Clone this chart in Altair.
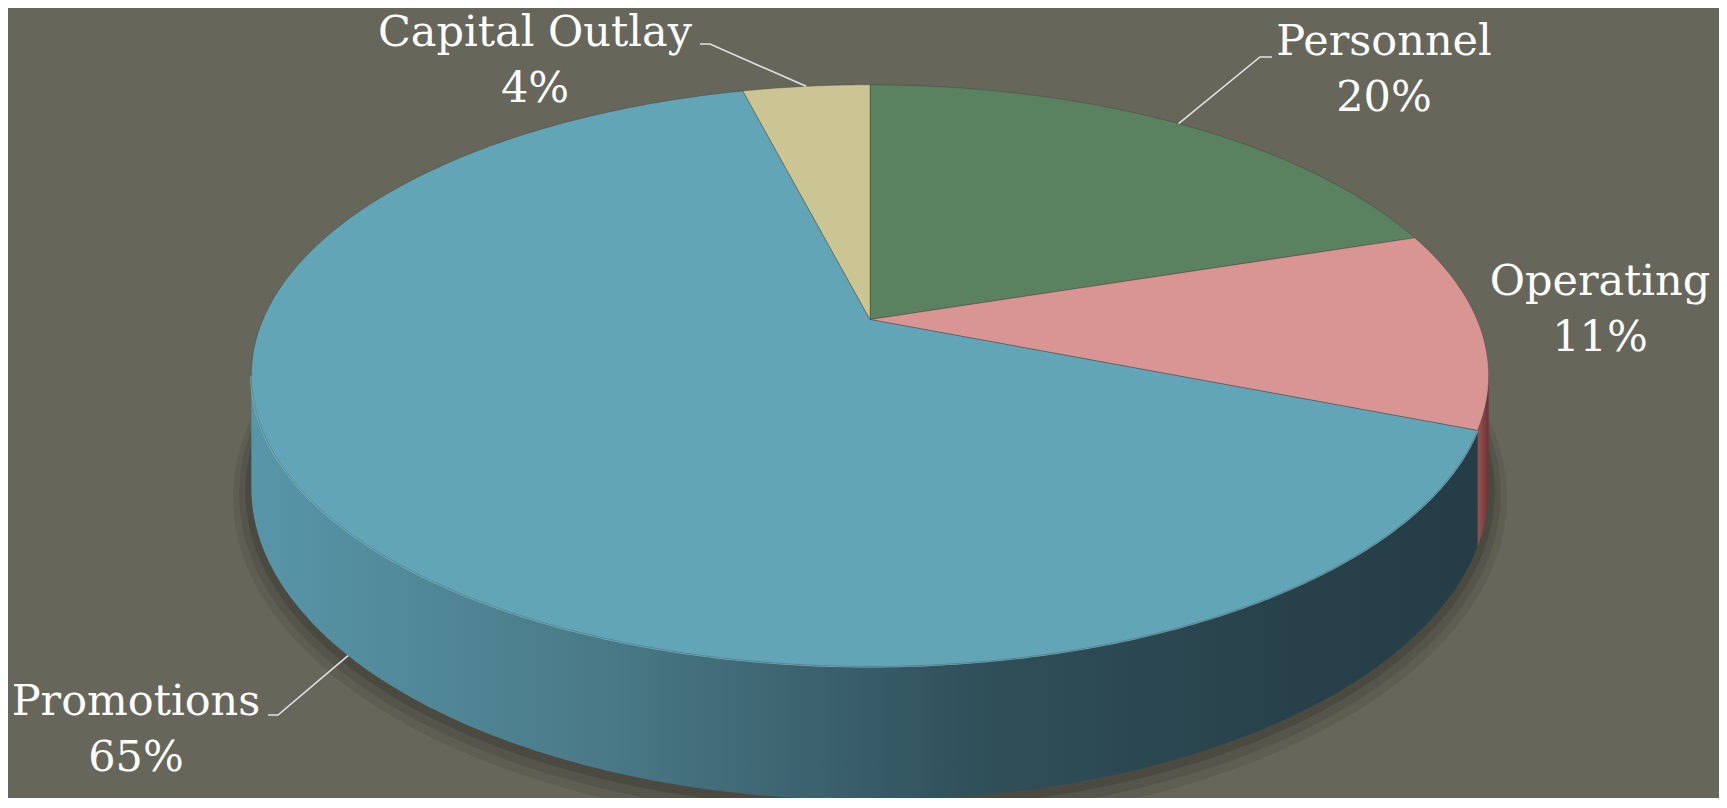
import math
import altair as alt
import numpy as np
import pandas as pd

# ---------------- data ----------------
categories = ["Personnel", "Operating", "Promotions", "Capital Outlay"]
values = [20, 11, 65, 4]
pct_text = ["20%", "11%", "65%", "4%"]

# ---------------- styles ----------------
top_colors = ["#5A8160", "#D99594", "#62A5B7", "#CBC493"]
side_stops = [
    [("#3E5C44", 0), ("#2E4433", 1)],
    [("#9A5353", 0), ("#6E3434", 1)],
    [("#5796A8", 0), ("#4A7A88", 0.28), ("#2F4F59", 0.6), ("#274049", 0.87), ("#253D46", 1)],
    [("#A09A70", 0), ("#8A845E", 1)],
]
BG = "#66665A"
FONT = "DejaVu Serif"

# ---------------- layout ----------------
W, H = 1711, 790
OX, OY = 8, 8
CX, CY = 870, 319.5      # pie apex
RX, RY = 607, 280        # projected radii
K = 0.193                # perspective factor
DEPTH = 108
label_x = [1384, 1600, 136, 535]
label_y = [55, 295, 715, 46]
LINE_GAP = 56
leader_elbows = {
    "Personnel": [(1272, 57), (1260, 57)],
    "Promotions": [(268, 715), (278, 715)],
    "Capital Outlay": [(700, 44), (710, 44)],
}
leader_on_side = {"Promotions"}


def project(theta, drop=0.0, grow=0.0):
    t = math.radians(theta)
    u, w = math.sin(t), -math.cos(t)
    s = 1.0 / (1.0 - K * w)
    return CX + (RX + grow) * u * s, CY + (RY + grow) * w * s + DEPTH * drop * s


def arc(a0, a1, drop=0.0, grow=0.0):
    n = max(2, int(math.ceil(abs(a1 - a0) / 0.5)) + 1)
    return [project(a, drop, grow) for a in np.linspace(a0, a1, n)]


def frame(pts):
    return pd.DataFrame({"i": range(len(pts)), "x": [p[0] for p in pts], "y": [p[1] for p in pts]})


xs = alt.Scale(domain=[OX, OX + W], nice=False, zero=False)
ys = alt.Scale(domain=[OY, OY + H], nice=False, zero=False, reverse=True)


def enc(ch):
    return ch.encode(
        x=alt.X("x:Q", scale=xs, axis=None),
        y=alt.Y("y:Q", scale=ys, axis=None),
        order=alt.Order("i:Q"),
    )


total = float(sum(values))
bounds = np.concatenate([[0.0], np.cumsum(values) / total * 360.0])
TH_R = math.degrees(math.acos(-K))
TH_L = 360.0 - TH_R

layers = []

# soft shadow under the pie
for g, op, dy in [(18, 0.07, 6), (12, 0.09, 4), (6, 0.12, 2)]:
    pts = [(x, y + dy) for x, y in arc(0, 360, drop=1.0, grow=g)]
    layers.append(enc(alt.Chart(frame(pts)).mark_line(
        fill="#000000", fillOpacity=op, strokeWidth=0, interpolate="linear-closed")))

# side walls
for k, cat in enumerate(categories):
    a0, a1 = max(bounds[k], TH_R), min(bounds[k + 1], TH_L)
    if a1 <= a0:
        continue
    pts = arc(a0, a1) + arc(a1, a0, drop=1.0)
    grad = alt.Gradient(
        gradient="linear",
        stops=[alt.GradientStop(color=c, offset=o) for c, o in side_stops[k]],
        x1=0, x2=1, y1=0, y2=0,
    )
    layers.append(enc(alt.Chart(frame(pts)).mark_line(
        fill=grad, strokeWidth=0, interpolate="linear-closed")))

# rim highlight on the front of the largest slice
pk = categories.index("Promotions")
hl = arc(max(bounds[pk], TH_R), min(bounds[pk + 1], TH_L))
layers.append(enc(alt.Chart(frame(hl)).mark_line(
    color="#86CBDD", strokeWidth=2, opacity=0.8)))

# top faces
for k, cat in enumerate(categories):
    pts = [(CX, CY)] + arc(bounds[k], bounds[k + 1])
    layers.append(enc(alt.Chart(frame(pts)).mark_line(
        fill=top_colors[k], stroke="#3A3A32", strokeOpacity=0.35, strokeWidth=1,
        interpolate="linear-closed")))

# leader lines
lead_rows = []
for k, cat in enumerate(categories):
    if cat not in leader_elbows:
        continue
    mid = (bounds[k] + bounds[k + 1]) / 2
    end = project(mid, drop=1.0 if cat in leader_on_side else 0.0)
    pts = leader_elbows[cat] + [end]
    for i, (x, y) in enumerate(pts):
        lead_rows.append({"cat": cat, "i": i, "x": x, "y": y})
lead_df = pd.DataFrame(lead_rows)
layers.append(alt.Chart(lead_df).mark_line(color="#E2E2E2", strokeWidth=1.6).encode(
    x=alt.X("x:Q", scale=xs, axis=None),
    y=alt.Y("y:Q", scale=ys, axis=None),
    detail="cat:N",
    order=alt.Order("i:Q"),
))

# labels
txt_rows = []
for k, cat in enumerate(categories):
    txt_rows.append({"x": label_x[k], "y": label_y[k], "t": cat})
    txt_rows.append({"x": label_x[k], "y": label_y[k] + LINE_GAP, "t": pct_text[k]})
txt_df = pd.DataFrame(txt_rows)
layers.append(alt.Chart(txt_df).mark_text(
    font=FONT, fontSize=43, color="#FFFFFF", align="center", baseline="alphabetic"
).encode(
    x=alt.X("x:Q", scale=xs, axis=None),
    y=alt.Y("y:Q", scale=ys, axis=None),
    text="t:N",
))

chart = alt.layer(*layers).properties(
    width=W, height=H, padding=0,
    autosize=alt.AutoSizeParams(type="none"),
    background=BG,
).configure_view(strokeWidth=0)

chart.save("out.html", embed_options={"renderer": "svg", "actions": False})
